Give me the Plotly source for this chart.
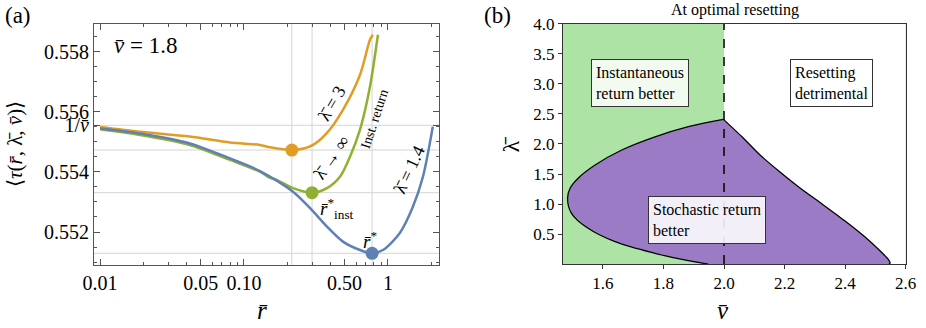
import numpy as np
import plotly.graph_objects as go

serif = "Liberation Serif"
orange = "#e19c24"
green = "#8fb032"
blue = "#5e81b5"
grid_color = "#d4d4d4"
frame_color = "#555555"

# ---- panel (a): mean time vs resetting rate, vbar = 1.8
v_bar = 1.8
r_orange = [0.01, 0.019, 0.042, 0.080, 0.129, 0.152, 0.215, 0.26, 0.302, 0.377, 0.487, 0.639, 0.75, 0.786]
t_orange = [0.5555, 0.55534, 0.55518, 0.55498, 0.5549, 0.55482, 0.55473, 0.55478, 0.5549, 0.5553, 0.55607, 0.55723, 0.5584, 0.55857]

r_green = [0.01, 0.019, 0.042, 0.080, 0.129, 0.152, 0.170, 0.219, 0.297, 0.377, 0.464, 0.545, 0.639, 0.75, 0.852]
t_green = [0.55542, 0.55523, 0.5549, 0.5544, 0.55401, 0.5538, 0.55373, 0.55346, 0.55331, 0.55346, 0.55384, 0.55451, 0.5554, 0.55684, 0.55857]

r_blue = [0.01, 0.019, 0.042, 0.080, 0.129, 0.219, 0.287, 0.377, 0.487, 0.639, 0.776, 0.923, 1.21, 1.49, 1.75, 2.05]
t_blue = [0.55545, 0.55528, 0.55495, 0.55445, 0.55403, 0.55334, 0.5528, 0.55218, 0.55168, 0.5514, 0.55129, 0.5514, 0.55197, 0.55284, 0.55384, 0.55551]

# optimal points (orange, green, blue)
r_opt = [0.215, 0.297, 0.776]
t_opt = [0.55473, 0.55331, 0.55129]
opt_colors = [orange, green, blue]

# ---- panel (b): phase diagram at optimal resetting
v_crit = 2.0
# lower branch round the nose up to the apex at v = 2
v_left = [1.948, 1.882, 1.772, 1.640, 1.551, 1.496, 1.483, 1.491, 1.518, 1.574, 1.662, 1.772, 1.882, 1.998]
lam_left = [0.0, 0.055, 0.178, 0.372, 0.595, 0.845, 1.095, 1.26, 1.43, 1.65, 1.90, 2.12, 2.29, 2.41]
# right branch from the apex down to lambda = 0
v_right = [1.998, 2.060, 2.119, 2.185, 2.251, 2.324, 2.400, 2.466, 2.516, 2.542, 2.549, 2.545]
lam_right = [2.41, 2.117, 1.817, 1.533, 1.267, 1.0, 0.717, 0.45, 0.217, 0.083, 0.02, 0.0]

fig = go.Figure()

for r, t, c in [(r_orange, t_orange, orange), (r_green, t_green, green), (r_blue, t_blue, blue)]:
    fig.add_trace(go.Scatter(x=r, y=t, mode="lines", line=dict(color=c, width=2.5, shape="spline", smoothing=0.8),
                             xaxis="x", yaxis="y", showlegend=False))
fig.add_trace(go.Scatter(x=r_opt, y=t_opt, mode="markers", marker=dict(color=opt_colors, size=13),
                         xaxis="x", yaxis="y", showlegend=False))

# purple region: fill first, then the two boundary branches
fig.add_trace(go.Scatter(x=v_left + v_right[1:] + [v_left[0]], y=lam_left + lam_right[1:] + [lam_left[0]],
                         mode="lines", fill="toself", fillcolor="#9b7bc6", line=dict(width=0),
                         xaxis="x2", yaxis="y2", showlegend=False))
for vv, ll, sm in [(v_left, lam_left, 1.0), (v_right, lam_right, 0.6)]:
    fig.add_trace(go.Scatter(x=vv, y=ll, mode="lines", line=dict(color="black", width=1.3, shape="spline", smoothing=sm),
                             xaxis="x2", yaxis="y2", showlegend=False))

shapes = []
for r in r_opt:
    shapes.append(dict(type="line", xref="x", yref="y domain", x0=r, x1=r, y0=0, y1=1,
                       line=dict(color=grid_color, width=1), layer="below"))
for t in t_opt + [1 / v_bar]:
    shapes.append(dict(type="line", xref="x domain", yref="y", x0=0, x1=1, y0=t, y1=t,
                       line=dict(color=grid_color, width=1), layer="below"))
shapes.append(dict(type="rect", xref="x2 domain", yref="y2 domain", x0=0, x1=1, y0=0, y1=1,
                   fillcolor="#ade3a4", line_width=0, layer="below"))
shapes.append(dict(type="rect", xref="x2", yref="y2 domain", x0=v_crit, x1=2.6, y0=0, y1=1,
                   fillcolor="white", line_width=0, layer="below"))
shapes.append(dict(type="line", xref="x2", yref="y2 domain", x0=v_crit, x1=v_crit, y0=0, y1=1,
                   line=dict(color="black", width=1.5, dash="dash")))

lx = np.log10
ann = []
def txt(text, x, y, size=19, angle=0, ref=("paper", "paper"), **kw):
    ann.append(dict(text=text, x=x, y=y, xref=ref[0], yref=ref[1], showarrow=False, textangle=angle,
                    xanchor="center", yanchor="middle",
                    font=dict(family=serif, size=size, color="black"), **kw))

txt("(a)", 0.019, 0.953, size=23)
txt("(b)", 0.537, 0.953, size=23)
txt("At optimal resetting", 0.794, 0.97, size=16)
txt("<i>v̄</i> = 1.8", 0.157, 0.862, size=23)
txt("<i>r̄</i>", 0.283, 0.052, size=25)
txt("<i>v̄</i>", 0.781, 0.052, size=25)
txt("⟨<i>τ</i>(<i>r̄</i>, λ̄, <i>v̄</i>)⟩", 0.017, 0.56, size=21, angle=-90)
txt("λ̄", 0.552, 0.56, size=24, angle=-90)

txt("λ̄ = 3", lx(0.408), 0.5563, size=18, angle=-60, ref=("x", "y"))
txt("λ̄ → ∞", lx(0.408), 0.5545, size=18, angle=-55, ref=("x", "y"))
txt("Inst. return", lx(0.812), 0.55577, size=14, angle=-72, ref=("x", "y"))
txt("λ̄ = 1.4", lx(1.40), 0.55407, size=18, angle=-65, ref=("x", "y"))
txt("<i>r̄</i><sup>*</sup><sub>inst</sub>", lx(0.442), 0.55277, size=19, ref=("x", "y"))
txt("<i>r̄</i><sup>*</sup>", lx(0.75), 0.55173, size=19, ref=("x", "y"))

box = dict(bordercolor="#333333", borderwidth=1, borderpad=4, align="left")
txt("Instantaneous<br>return better", 1.724, 3.01, size=16, ref=("x2", "y2"), bgcolor="rgba(255,255,255,0.85)", **box)
txt("Resetting<br>detrimental", 2.355, 3.01, size=16, ref=("x2", "y2"), bgcolor="rgba(255,255,255,0.9)", **box)
txt("Stochastic return<br>better", 1.944, 0.74, size=16, ref=("x2", "y2"), bgcolor="rgba(255,255,255,0.88)", **box)

minor_r = [m * d for d in (0.01, 0.1, 1) for m in range(2, 10) if m * d not in (0.05, 0.5) and m * d < 2.3]

fig.update_layout(
    width=926, height=328,
    margin=dict(l=0, r=0, t=0, b=0, autoexpand=False),
    paper_bgcolor="white", plot_bgcolor="white",
    font=dict(family=serif, color="black"),
    shapes=shapes, annotations=ann,
    xaxis=dict(domain=[0.1015, 0.474], type="log", range=[lx(0.00908), lx(2.26)],
               tickvals=[0.01, 0.05, 0.1, 0.5, 1], ticktext=["0.01", "0.05", "0.10", "0.50", "1"],
               ticks="inside", ticklen=6, tickcolor=frame_color, showgrid=False, zeroline=False,
               showline=True, linecolor=frame_color, linewidth=1, mirror="ticks", automargin=False,
               tickfont=dict(size=20), anchor="y",
               minor=dict(tickvals=minor_r, ticks="inside", ticklen=3, tickcolor=frame_color, showgrid=False)),
    yaxis=dict(domain=[0.192, 0.927], range=[0.5509, 0.55893],
               tickvals=[0.552, 0.554, 0.556, 0.558, 1 / v_bar],
               ticktext=["0.552", "0.554", "0.556", "0.558", "1/<i>v̄</i>"],
               ticks="inside", ticklen=6, tickcolor=frame_color, showgrid=False, zeroline=False,
               showline=True, linecolor=frame_color, linewidth=1, mirror="ticks", automargin=False,
               tickfont=dict(size=20), anchor="x",
               minor=dict(dtick=0.0005, tick0=0.552, ticks="inside", ticklen=3, tickcolor=frame_color, showgrid=False)),
    xaxis2=dict(domain=[0.608, 0.978], range=[1.468, 2.6], tickvals=[1.6, 1.8, 2.0, 2.2, 2.4, 2.6],
                ticktext=["1.6", "1.8", "2.0", "2.2", "2.4", "2.6"],
                ticks="outside", ticklen=4, tickcolor="#333", showgrid=False, zeroline=False,
                showline=True, linecolor="#333", linewidth=1, mirror=True, automargin=False,
                tickfont=dict(size=17), anchor="y2"),
    yaxis2=dict(domain=[0.195, 0.927], range=[0, 4], tickvals=[0.5, 1, 1.5, 2, 2.5, 3, 3.5, 4],
                ticktext=["0.5", "1.0", "1.5", "2.0", "2.5", "3.0", "3.5", "4.0"],
                ticks="outside", ticklen=4, tickcolor="#333", showgrid=False, zeroline=False,
                showline=True, linecolor="#333", linewidth=1, mirror=True, automargin=False,
                tickfont=dict(size=17), anchor="x2"),
)

# the page's default 8px body margin would shift the whole figure
fig.write_html("out.html", config={"displayModeBar": False},
               post_script="document.body.style.margin='0';")
